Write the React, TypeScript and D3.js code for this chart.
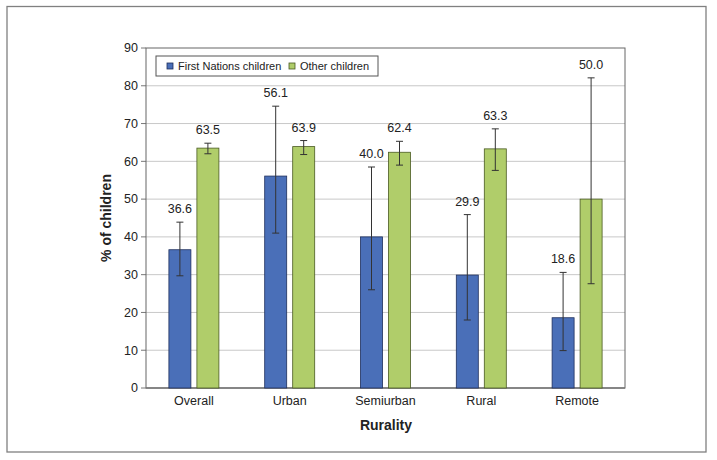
import React from "react";
import * as d3 from "d3";

const categories = ["Overall", "Urban", "Semiurban", "Rural", "Remote"];
const seriesNames = ["First Nations children", "Other children"];
const firstNations = [36.6, 56.1, 40.0, 29.9, 18.6];
const firstNationsLow = [29.7, 41.0, 26.0, 18.0, 9.9];
const firstNationsHigh = [43.9, 74.6, 58.5, 45.9, 30.6];
const otherChildren = [63.5, 63.9, 62.4, 63.3, 50.0];
const otherLow = [62.0, 61.8, 59.0, 57.6, 27.6];
const otherHigh = [64.8, 65.5, 65.3, 68.6, 82.1];
const yTicks = [0, 10, 20, 30, 40, 50, 60, 70, 80, 90];

const W = 717;
const H = 460;
const M = { left: 146, right: 625, top: 48, bottom: 388 };
const FONT = "'Liberation Sans', Arial, sans-serif";
const BLUE = "#4a6fb8";
const BLUE_STROKE = "#1f2f5c";
const GREEN = "#b0cd6a";
const GREEN_STROKE = "#4a5a22";

export default function App() {
  const x = d3.scaleBand<string>().domain(categories).range([M.left, M.right]);
  const y = d3.scaleLinear().domain([0, 90]).range([M.bottom, M.top]);
  const barW = 22;
  const gap = 6;
  const series = [
    { name: seriesNames[0], vals: firstNations, lo: firstNationsLow, hi: firstNationsHigh, fill: BLUE, stroke: BLUE_STROKE, off: -(gap / 2 + barW) },
    { name: seriesNames[1], vals: otherChildren, lo: otherLow, hi: otherHigh, fill: GREEN, stroke: GREEN_STROKE, off: gap / 2 },
  ];
  return (
    <div style={{ position: "absolute", left: 0, top: 0 }}>
      <svg width={W} height={H} style={{ display: "block", fontFamily: FONT }}>
        <rect x={0} y={0} width={W} height={H} fill="#fff" />
        <rect x={7} y={6.5} width={699} height={445.5} fill="none" stroke="#808080" strokeWidth={1.3} />
        {yTicks.map((t) => (
          <g key={t}>
            {t > 0 && t < 90 && (
              <line x1={M.left} x2={M.right} y1={y(t)} y2={y(t)} stroke="#c8c8c8" strokeWidth={1} />
            )}
            <line x1={M.left - 5} x2={M.left} y1={y(t)} y2={y(t)} stroke="#777" strokeWidth={1} />
            <text x={M.left - 8} y={y(t)} dy="0.35em" textAnchor="end" fontSize={12.5} fill="#222">
              {t}
            </text>
          </g>
        ))}
        <rect x={M.left} y={M.top} width={M.right - M.left} height={M.bottom - M.top} fill="none" stroke="#666" strokeWidth={1} />
        <line x1={M.left} x2={M.right} y1={M.bottom} y2={M.bottom} stroke="#777" strokeWidth={1.5} />
        {categories.map((c, i) => {
          const cx = (x(c) as number) + x.bandwidth() / 2;
          return (
            <g key={c}>
              {series.map((s) => {
                const bx = cx + s.off;
                const mid = bx + barW / 2;
                return (
                  <g key={s.name}>
                    <rect x={bx} y={y(s.vals[i])} width={barW} height={y(0) - y(s.vals[i])} fill={s.fill} stroke={s.stroke} strokeWidth={0.8} />
                    <line x1={mid} x2={mid} y1={y(s.hi[i])} y2={y(s.lo[i])} stroke="#333" strokeWidth={1} />
                    <line x1={mid - 3.5} x2={mid + 3.5} y1={y(s.hi[i])} y2={y(s.hi[i])} stroke="#333" strokeWidth={1} />
                    <line x1={mid - 3.5} x2={mid + 3.5} y1={y(s.lo[i])} y2={y(s.lo[i])} stroke="#333" strokeWidth={1} />
                    <text x={mid} y={y(s.hi[i]) - 9} textAnchor="middle" fontSize={12.5} fill="#222">
                      {s.vals[i].toFixed(1)}
                    </text>
                  </g>
                );
              })}
              <text x={cx} y={M.bottom + 13} dy="0.35em" textAnchor="middle" fontSize={12.5} fill="#222">
                {c}
              </text>
            </g>
          );
        })}
        <text x={386} y={425} dy="0.35em" textAnchor="middle" fontSize={14} fontWeight="bold" fill="#222">
          Rurality
        </text>
        <text transform={`translate(106,${(M.top + M.bottom) / 2}) rotate(-90)`} dy="0.35em" textAnchor="middle" fontSize={14} fontWeight="bold" fill="#222">
          % of children
        </text>
        <g>
          <rect x={156} y={56} width={222} height={20} fill="#fff" stroke="#555" strokeWidth={1} />
          <rect x={167} y={63} width={6} height={6} fill={BLUE} stroke={BLUE_STROKE} strokeWidth={0.8} />
          <text x={178} y={66} dy="0.35em" fontSize={11} fill="#222">{seriesNames[0]}</text>
          <rect x={289} y={63} width={6} height={6} fill={GREEN} stroke={GREEN_STROKE} strokeWidth={0.8} />
          <text x={300} y={66} dy="0.35em" fontSize={11} fill="#222">{seriesNames[1]}</text>
        </g>
      </svg>
    </div>
  );
}
